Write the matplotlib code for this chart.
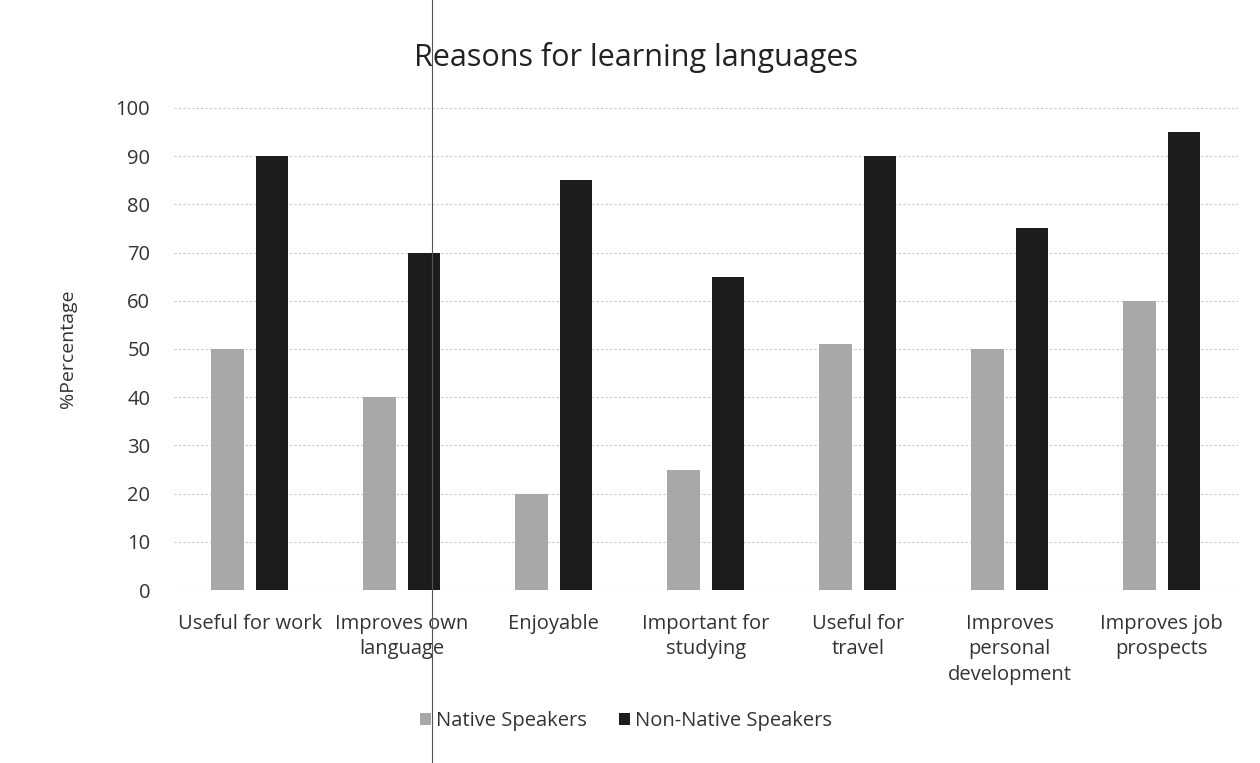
import matplotlib
matplotlib.use("Agg")
import matplotlib.pyplot as plt
from matplotlib.lines import Line2D
import numpy as np

categories = ["Useful for work", "Improves own\nlanguage", "Enjoyable",
              "Important for\nstudying", "Useful for\ntravel",
              "Improves\npersonal\ndevelopment", "Improves job\nprospects"]
native = [50, 40, 20, 25, 51, 50, 60]
non_native = [90, 70, 85, 65, 90, 75, 95]
yticks = list(range(0, 101, 10))

plt.rcParams['font.family'] = ['Open Sans', 'DejaVu Sans']
txt = "#333333"

fig = plt.figure(figsize=(12.6, 7.63), dpi=100)
ax = fig.add_axes([0.138, 0.2267, 0.8444, 0.6318])

x = np.arange(len(categories))
w = 0.215
gap = 0.075
ax.bar(x - (w + gap) / 2, native, w, color="#a8a8a8", label="Native Speakers", zorder=3)
ax.bar(x + (w + gap) / 2, non_native, w, color="#1c1c1c", label="Non-Native Speakers", zorder=3)

ax.set_xlim(-0.5, len(categories) - 0.5)
ax.set_ylim(0, 100)
ax.set_yticks(yticks)
ax.set_yticklabels([str(t) for t in yticks], fontsize=14.5, color=txt)
ax.set_xticks(x)
ax.set_xticklabels(categories, fontsize=14.5, color=txt, linespacing=1.38)
ax.tick_params(axis="both", length=0)
ax.tick_params(axis="y", pad=17)
ax.tick_params(axis="x", pad=17)
ax.yaxis.grid(True, color="#c8c8c8", linestyle=(0, (2, 2)), linewidth=0.8, zorder=0)
for s in ax.spines.values():
    s.set_visible(False)

ax.set_ylabel("%Percentage", fontsize=14, color=txt, labelpad=28)
fig.text(0.505, 0.925, "Reasons for learning languages", ha="center", va="center",
         fontsize=22, color="#222222")

fig.legend(loc="center", bbox_to_anchor=(0.497, 0.055), ncol=2, frameon=False,
           fontsize=14.5, handlelength=0.55, handleheight=0.55, handletextpad=0.25,
           columnspacing=1.6, labelcolor=txt)

# thin vertical line across the page
fig.add_artist(Line2D([0.343, 0.343], [0, 1], transform=fig.transFigure,
                      color="#555555", linewidth=0.8))

fig.savefig("out.png", dpi=100)
